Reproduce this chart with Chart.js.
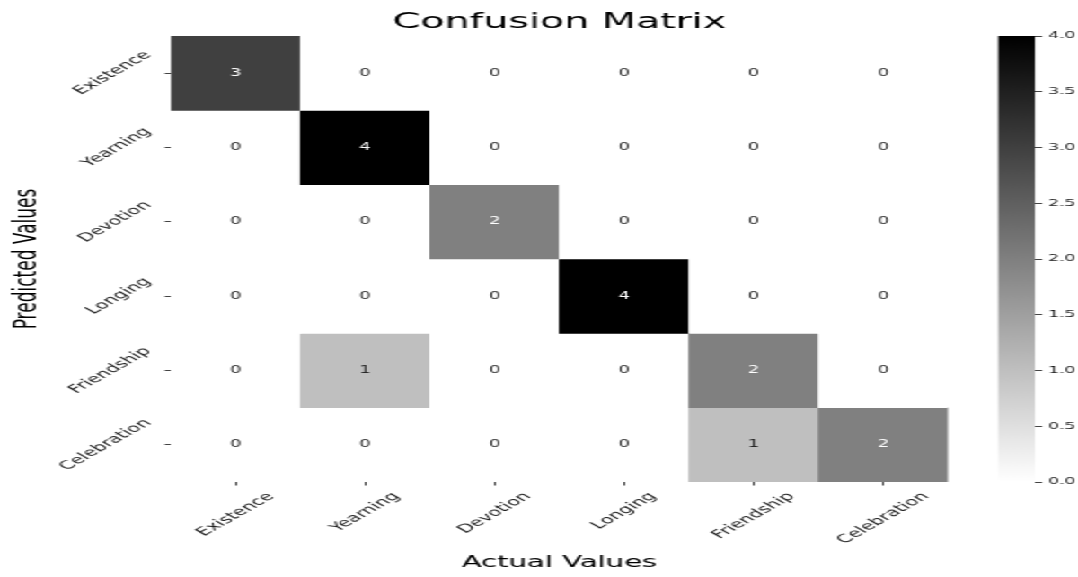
<!DOCTYPE html>
<html>
<head>
<meta charset="utf-8">
<title>Confusion Matrix</title>
<script src="https://cdn.jsdelivr.net/npm/chart.js@4/dist/chart.umd.min.js"></script>
<style>
  html, body { margin: 0; padding: 0; background: #ffffff; overflow: hidden; }
  /* The figure is laid out on a 600px-wide stage and widened to the full page. */
  #stage { position: absolute; left: 0; top: 0; width: 600px; height: 577px;
           transform-origin: 0 0; transform: scaleX(1.7967); }
  #matrix { position: absolute; left: 0; top: 0; }
  #scale  { position: absolute; left: 540px; top: 0; }
</style>
</head>
<body>
<div id="stage">
  <canvas id="matrix" width="600" height="577"></canvas>
  <canvas id="scale" width="60" height="577"></canvas>
</div>
<script>
// ---- data -------------------------------------------------------------
const predictedLabels = ['Existence', 'Yearning', 'Devotion', 'Longing', 'Friendship', 'Celebration'];
const actualLabels    = ['Existence', 'Yearning', 'Devotion', 'Longing', 'Friendship', 'Celebration'];

// rows = predicted class, columns = actual class
const rowExistence   = [3, 0, 0, 0, 0, 0];
const rowYearning    = [0, 4, 0, 0, 0, 0];
const rowDevotion    = [0, 0, 2, 0, 0, 0];
const rowLonging     = [0, 0, 0, 4, 0, 0];
const rowFriendship  = [0, 1, 0, 0, 2, 0];
const rowCelebration = [0, 0, 0, 0, 1, 2];
const counts = [rowExistence, rowYearning, rowDevotion, rowLonging, rowFriendship, rowCelebration];

const colorbarTicks = [0, 0.5, 1, 1.5, 2, 2.5, 3, 3.5, 4];
const vmin = 0, vmax = 4;

// ---- style ------------------------------------------------------------
const FONT = "'DejaVu Sans', sans-serif";
const TICK_LEN = 3.5;
const LABEL_PAD = 4.5;
const TICK_COLOR = '#444444';

// reversed gray colormap: low = white, high = black
function shade(v) {
  const g = Math.round(255 * (1 - (v - vmin) / (vmax - vmin)));
  return `rgb(${g},${g},${g})`;
}
// light text on dark cells, dark text on light cells
function textColorFor(v) {
  const g = 1 - (v - vmin) / (vmax - vmin);
  const lin = g <= 0.04045 ? g / 12.92 : Math.pow((g + 0.055) / 1.055, 2.4);
  return lin > 0.408 ? '#262626' : '#ffffff';
}

// ---- plugins ----------------------------------------------------------
const cellValues = {
  id: 'cellValues',
  afterDatasetsDraw(chart) {
    const { ctx } = chart;
    ctx.save();
    ctx.font = `10px ${FONT}`;
    ctx.textAlign = 'center';
    ctx.textBaseline = 'middle';
    chart.data.datasets.forEach((ds, r) => {
      chart.getDatasetMeta(r).data.forEach((el, c) => {
        const p = el.getCenterPoint();
        const v = counts[r][c];
        ctx.fillStyle = textColorFor(v);
        ctx.fillText(String(v), p.x, p.y);
      });
    });
    ctx.restore();
  }
};

// tick labels turned 45°, each label's box centred on its tick
const rotatedTickLabels = {
  id: 'rotatedTickLabels',
  afterDraw(chart) {
    const { ctx, chartArea, scales: { x, y } } = chart;
    const size = 11.6, lh = size * 1.16, ang = Math.PI / 4;
    ctx.save();
    ctx.font = `${size}px ${FONT}`;
    ctx.fillStyle = '#1a1a1a';
    ctx.textAlign = 'center';
    ctx.textBaseline = 'middle';
    const put = (t, cx, cy) => {
      ctx.save();
      ctx.translate(cx, cy);
      ctx.rotate(-ang);
      ctx.fillText(t, 0, 0);
      ctx.restore();
    };
    const right = chartArea.left - TICK_LEN - LABEL_PAD;
    predictedLabels.forEach((t, i) => {
      const w = ctx.measureText(t).width;
      const half = (w + lh) * Math.cos(ang) / 2;
      put(t, right - half, y.getPixelForValue(i));
    });
    const top = chartArea.bottom + TICK_LEN + LABEL_PAD;
    actualLabels.forEach((t, i) => {
      const w = ctx.measureText(t).width;
      const half = (w + lh) * Math.sin(ang) / 2;
      put(t, x.getPixelForTick(i), top + half);
    });
    ctx.restore();
  }
};

// ---- heatmap ----------------------------------------------------------
new Chart(document.getElementById('matrix'), {
  type: 'bar',
  data: {
    labels: actualLabels,
    datasets: predictedLabels.map((name, r) => ({
      label: name,
      data: actualLabels.map(() => [r - 0.5, r + 0.5]),
      backgroundColor: counts[r].map(shade),
      borderWidth: 0,
      barPercentage: 1,
      categoryPercentage: 1,
      grouped: false
    }))
  },
  options: {
    responsive: false,
    maintainAspectRatio: false,
    animation: false,
    events: [],
    layout: { padding: { left: 0, right: 72.4, top: 0, bottom: 0 } },
    plugins: {
      legend: { display: false },
      tooltip: { enabled: false },
      title: {
        display: true,
        text: 'Confusion Matrix',
        fullSize: false,
        color: '#000000',
        font: { family: FONT, size: 22, weight: 'normal' },
        padding: { top: 9, bottom: 0.6 }
      }
    },
    scales: {
      x: {
        type: 'category',
        offset: true,
        grid: { display: true, drawOnChartArea: false, offset: false,
                tickLength: TICK_LEN, color: TICK_COLOR, lineWidth: 1 },
        border: { display: false },
        ticks: { display: false },
        title: { display: true, text: 'Actual Values', color: '#000000',
                 font: { family: FONT, size: 16.2 }, padding: { top: 0, bottom: 4 } },
        afterFit(s) { s.height = 95; }
      },
      y: {
        type: 'linear',
        min: -0.5,
        max: 5.5,
        reverse: true,
        afterBuildTicks(s) { s.ticks = predictedLabels.map((_, i) => ({ value: i })); },
        grid: { display: true, drawOnChartArea: false,
                tickLength: TICK_LEN, color: TICK_COLOR, lineWidth: 1 },
        border: { display: false },
        ticks: { display: false },
        title: { display: true, text: 'Predicted Values', color: '#000000',
                 font: { family: FONT, size: 17 }, padding: { top: 5.4, bottom: 0 } },
        afterFit(s) { s.width = 95.2; }
      }
    }
  },
  plugins: [cellValues, rotatedTickLabels]
});

// ---- colour bar -------------------------------------------------------
new Chart(document.getElementById('scale'), {
  type: 'bar',
  data: {
    labels: [''],
    datasets: [{
      data: [[vmin, vmax]],
      backgroundColor(c) {
        const { chart } = c;
        if (!chart.chartArea) return shade((vmin + vmax) / 2);
        const ys = chart.scales.y;
        const g = chart.ctx.createLinearGradient(0, ys.getPixelForValue(vmin), 0, ys.getPixelForValue(vmax));
        g.addColorStop(0, shade(vmin));
        g.addColorStop(1, shade(vmax));
        return g;
      },
      borderWidth: 0,
      barPercentage: 1,
      categoryPercentage: 1
    }]
  },
  options: {
    responsive: false,
    maintainAspectRatio: false,
    animation: false,
    events: [],
    layout: { padding: { left: 15.5, right: 0, top: 36, bottom: 95 } },
    plugins: { legend: { display: false }, tooltip: { enabled: false } },
    scales: {
      x: { display: false },
      y: {
        position: 'right',
        min: vmin,
        max: vmax,
        afterBuildTicks(s) { s.ticks = colorbarTicks.map(v => ({ value: v })); },
        ticks: { callback: v => Number(v).toFixed(1), color: '#1a1a1a',
                 font: { family: FONT, size: 9.5 }, padding: 3.3 },
        grid: { drawOnChartArea: false, tickLength: 4, color: TICK_COLOR, lineWidth: 1 },
        border: { display: false },
        afterFit(s) { s.width = 23.9; }
      }
    }
  }
});
</script>
</body>
</html>
